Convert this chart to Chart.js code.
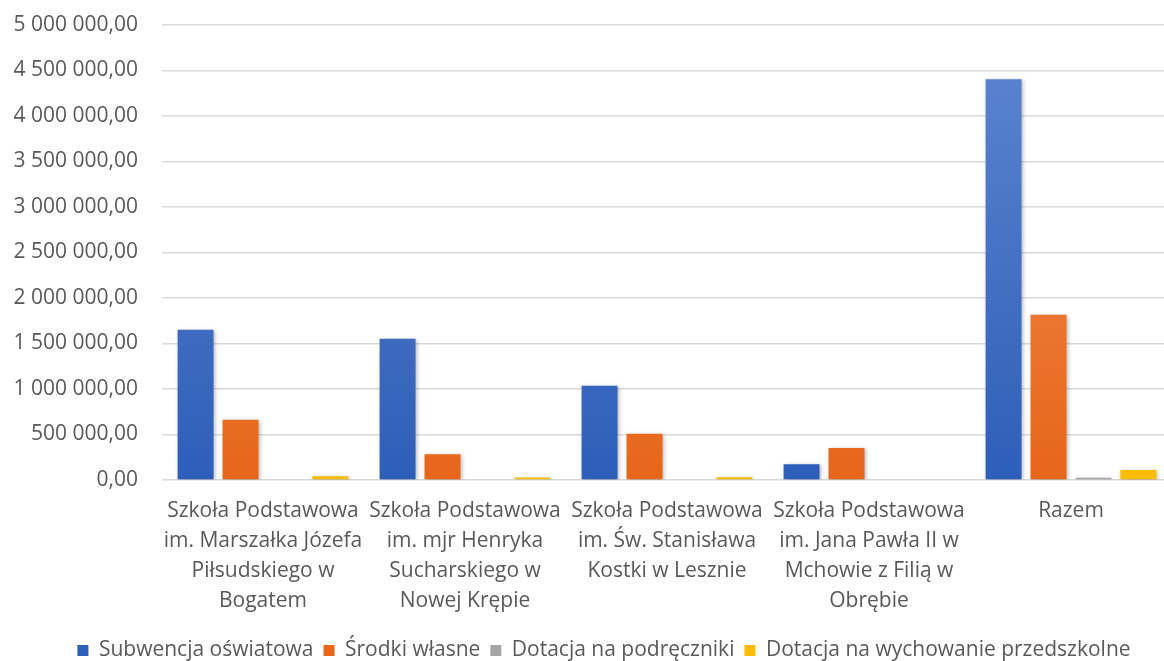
<!DOCTYPE html>
<html>
<head>
<meta charset="utf-8">
<script src="https://cdn.jsdelivr.net/npm/chart.js@4"></script>
<style>
  html, body { margin: 0; padding: 0; background: #fff; overflow: hidden; }
  #wrap { width: 1172px; height: 661px; position: relative; }
</style>
</head>
<body>
<div id="wrap"><canvas id="chart"></canvas></div>
<script>
// kategorie (szkoły) i serie
const kategorie = [
  ['Szkoła Podstawowa', 'im. Marszałka Józefa', 'Piłsudskiego w', 'Bogatem'],
  ['Szkoła Podstawowa', 'im. mjr Henryka', 'Sucharskiego w', 'Nowej Krępie'],
  ['Szkoła Podstawowa', 'im. Św. Stanisława', 'Kostki w Lesznie'],
  ['Szkoła Podstawowa', 'im. Jana Pawła II w', 'Mchowie z Filią w', 'Obrębie'],
  'Razem'
];
const subwencja = [1652000, 1553000, 1035000, 173000, 4405000];
const srodkiWlasne = [661000, 283000, 507000, 352000, 1817000];
const podreczniki = [0, 0, 0, 0, 25000];
const przedszkolne = [40000, 28000, 30000, 0, 110000];
const osY = [0, 500000, 1000000, 1500000, 2000000, 2500000, 3000000, 3500000, 4000000, 4500000, 5000000];

const nazwySerii = ['Subwencja oświatowa', 'Środki własne', 'Dotacja na podręczniki', 'Dotacja na wychowanie przedszkolne'];

// formatowanie liczb: 5 000 000,00
function fmt(v) {
  let s = Math.round(v).toString().replace(/\B(?=(\d{3})+(?!\d))/g, ' ');
  return s + ',00';
}

// gradient pionowy jak w Excelu
function gradient(top, bottom) {
  return function (ctx) {
    const area = ctx.chart.chartArea;
    if (!area) return bottom;
    const g = ctx.chart.ctx.createLinearGradient(0, area.top, 0, area.bottom);
    g.addColorStop(0, top);
    g.addColorStop(1, bottom);
    return g;
  };
}

// lekki cień pod słupkami
const cien = {
  id: 'cien',
  beforeDatasetsDraw(chart) {
    const c = chart.ctx;
    c.save();
    c.shadowColor = 'rgba(0,0,0,0.28)';
    c.shadowBlur = 4;
    c.shadowOffsetX = 1;
    c.shadowOffsetY = 1;
  },
  afterDatasetsDraw(chart) { chart.ctx.restore(); }
};

// legenda przesunięta trochę w prawo i w dół (jak w oryginale)
const przesunLegende = {
  id: 'przesunLegende',
  afterLayout(chart) {
    const lg = chart.legend;
    if (!lg) return;
    lg.left += 18; lg.right += 18;
    lg.top += 10; lg.bottom += 10;
  }
};

const kolorTekstu = '#595959';
const font = { family: 'Open Sans', size: 21 };

new Chart(document.getElementById('chart'), {
  type: 'bar',
  data: {
    labels: kategorie,
    datasets: [
      { label: nazwySerii[0], data: subwencja, backgroundColor: gradient('#5f86d0', '#2d5eb8') },
      { label: nazwySerii[1], data: srodkiWlasne, backgroundColor: gradient('#f39257', '#e6661a') },
      { label: nazwySerii[2], data: podreczniki, backgroundColor: '#a5a5a5' },
      { label: nazwySerii[3], data: przedszkolne, backgroundColor: gradient('#ffd03a', '#f9bc00') }
    ]
  },
  plugins: [cien, przesunLegende],
  options: {
    responsive: true,
    maintainAspectRatio: false,
    animation: false,
    layout: { padding: 0 },
    datasets: {
      bar: { categoryPercentage: 0.89, barPercentage: 0.8 }
    },
    scales: {
      x: {
        grid: { display: false },
        border: { display: false },
        afterFit: function (scale) { scale.height = 140; },
        ticks: {
          color: kolorTekstu,
          font: { family: 'Open Sans', size: 21, lineHeight: 1.43 },
          maxRotation: 0,
          autoSkip: false,
          padding: 8
        }
      },
      y: {
        min: 0,
        max: 5000000,
        afterFit: function (scale) { scale.width = 162; scale.paddingTop = 25; },
        afterBuildTicks: function (scale) {
          scale.ticks = osY.map(v => ({ value: v }));
        },
        border: { display: false },
        grid: { color: '#d9d9d9', lineWidth: 1.5, drawTicks: false },
        ticks: {
          color: kolorTekstu,
          font: font,
          padding: 24,
          callback: function (v) { return fmt(v); }
        }
      }
    },
    plugins: {
      legend: {
        position: 'bottom',
        labels: {
          color: kolorTekstu,
          font: font,
          boxWidth: 11,
          boxHeight: 11,
          padding: 10
        }
      },
      tooltip: { enabled: false }
    }
  }
});
</script>
</body>
</html>
